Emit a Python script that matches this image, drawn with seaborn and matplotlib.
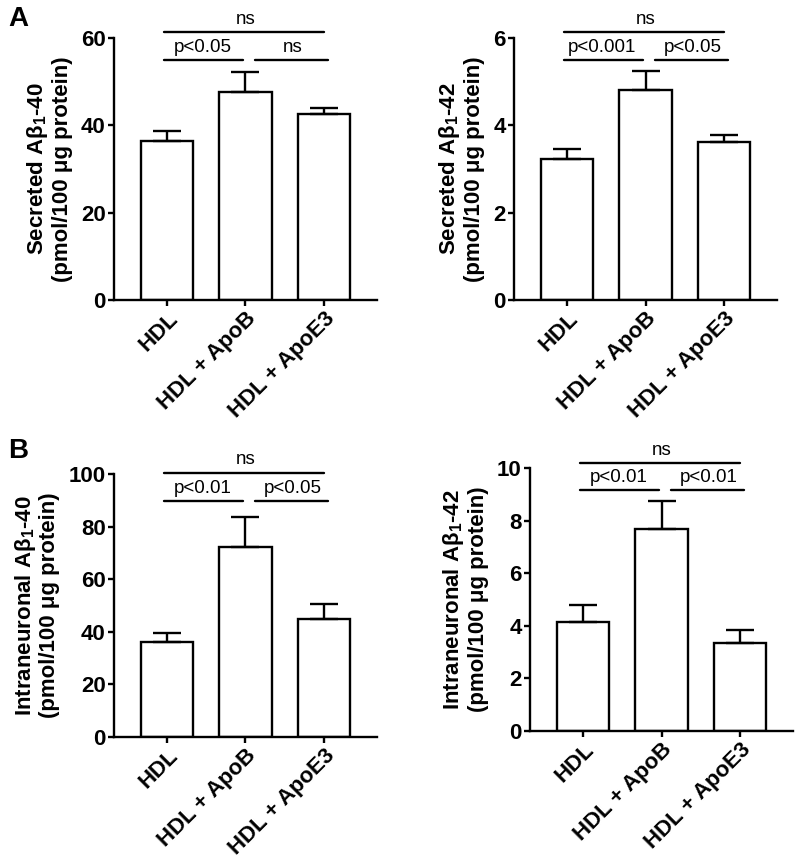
import numpy as np
import pandas as pd
import matplotlib
matplotlib.use("Agg")
import matplotlib.pyplot as plt
import seaborn as sns

sns.set_style("ticks")
plt.rcParams["font.family"] = ["Liberation Sans", "DejaVu Sans"]
plt.rcParams["mathtext.fontset"] = "custom"
plt.rcParams["mathtext.rm"] = "Liberation Sans:bold"
plt.rcParams["mathtext.bf"] = "Liberation Sans:bold"
plt.rcParams["mathtext.default"] = "bf"
plt.rcParams["text.color"] = "black"
plt.rcParams["axes.labelcolor"] = "black"
plt.rcParams["xtick.color"] = "black"
plt.rcParams["ytick.color"] = "black"
plt.rcParams["axes.edgecolor"] = "black"

# data
groups = ["HDL", "HDL + ApoB", "HDL + ApoE3"]

sec40_mean = [36.5, 47.6, 42.6]
sec40_err = [2.3, 4.5, 1.4]
sec42_mean = [3.23, 4.81, 3.62]
sec42_err = [0.23, 0.43, 0.17]
intra40_mean = [36.2, 72.1, 44.9]
intra40_err = [3.5, 11.4, 5.6]
intra42_mean = [4.14, 7.69, 3.34]
intra42_err = [0.66, 1.07, 0.51]

ylims = [60, 6, 100, 10]
yticks = [[0, 20, 40, 60], [0, 2, 4, 6], [0, 20, 40, 60, 80, 100], [0, 2, 4, 6, 8, 10]]
ylabels = ["Secreted A\u03b2$_{1}$-40\n(pmol/100 \u03bcg protein)",
           "Secreted A\u03b2$_{1}$-42\n(pmol/100 \u03bcg protein)",
           "Intraneuronal A\u03b2$_{1}$-40\n(pmol/100 \u03bcg protein)",
           "Intraneuronal A\u03b2$_{1}$-42\n(pmol/100 \u03bcg protein)"]
sig_left = ["p<0.05", "p<0.001", "p<0.01", "p<0.01"]
sig_right = ["ns", "p<0.05", "p<0.05", "p<0.01"]
sig_top = ["ns", "ns", "ns", "ns"]
# bracket heights as fraction of y max
top_h = [1.022, 1.022, 1.005, 1.019]
low_h = [0.917, 0.917, 0.897, 0.915]

means = [sec40_mean, sec42_mean, intra40_mean, intra42_mean]
errs = [sec40_err, sec42_err, intra40_err, intra42_err]

W, H = 800, 860
fig = plt.figure(figsize=(8, 8.6), dpi=100)

# axes boxes in pixels: left, top, width, height
boxes = [(114, 38, 263, 262), (514, 38, 263, 262),
         (114, 474, 263, 263), (530, 468, 263, 263)]

fs = 16
for i in range(4):
    l, t, w, h = boxes[i]
    ax = fig.add_axes([l / W, 1 - (t + h) / H, w / W, h / H])
    df = pd.DataFrame({"group": groups, "value": means[i]})
    sns.barplot(data=df, x="group", y="value", ax=ax, color="white",
                edgecolor="black", linewidth=1.7, width=0.67, errorbar=None,
                saturation=1)
    ax.errorbar(x=np.arange(3), y=means[i], yerr=[np.zeros(3), errs[i]],
                fmt="none", ecolor="black", elinewidth=1.7, capsize=10,
                capthick=1.7, zorder=3)
    ax.set_xlim(-0.68, 2.68)
    ax.set_ylim(0, ylims[i])
    ax.set_yticks(yticks[i])
    ax.set_xlabel("")
    ax.set_ylabel(ylabels[i], fontsize=fs, fontweight="bold", linespacing=1.1,
                  labelpad=6)
    sns.despine(ax=ax)
    for s in ["left", "bottom"]:
        ax.spines[s].set_linewidth(1.7)
    ax.tick_params(direction="out", length=4, width=1.7, labelsize=fs, pad=2)
    for lab in ax.get_yticklabels():
        lab.set_fontweight("bold")
    ax.set_xticks(range(3))
    ax.set_xticklabels(groups, rotation=45, ha="right", rotation_mode="anchor",
                       fontweight="bold", fontsize=fs)

    ym = ylims[i]
    yt = top_h[i] * ym
    yl = low_h[i] * ym
    off = 0.016 * ym
    ax.plot([-0.04, 2.0], [yt, yt], color="black", lw=1.7, clip_on=False)
    ax.plot([-0.04, 0.97], [yl, yl], color="black", lw=1.7, clip_on=False)
    ax.plot([1.12, 2.05], [yl, yl], color="black", lw=1.7, clip_on=False)
    ax.text(1.0, yt + off, sig_top[i], ha="center", va="bottom", fontsize=13.5)
    ax.text(0.45, yl + off, sig_left[i], ha="center", va="bottom", fontsize=13.5)
    ax.text(1.6, yl + off, sig_right[i], ha="center", va="bottom", fontsize=13.5)

fig.text(8 / W, 1 - 6 / H, "A", fontsize=20, fontweight="bold", va="top")
fig.text(8 / W, 1 - 438 / H, "B", fontsize=20, fontweight="bold", va="top")

fig.savefig("out.png", dpi=100)
